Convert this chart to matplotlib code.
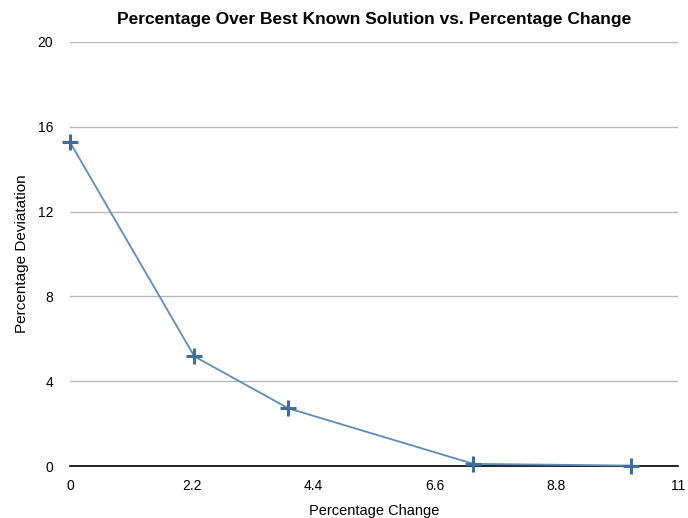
import matplotlib
matplotlib.use("Agg")
import matplotlib.pyplot as plt

plt.rcParams['font.family'] = ['Liberation Sans', 'DejaVu Sans']

# data
pct_change = [0, 2.25, 3.95, 7.3, 10.15]
pct_deviation = [15.27, 5.17, 2.72, 0.1, 0.02]
xticks = [0, 2.2, 4.4, 6.6, 8.8, 11]
xtick_labels = ["0", "2.2", "4.4", "6.6", "8.8", "11"]
yticks = [0, 4, 8, 12, 16, 20]

fig = plt.figure(figsize=(6.88, 5.18), dpi=100)
ax = fig.add_axes([70/688, 1 - 466/518, 608/688, 424/518])

ax.plot(pct_change, pct_deviation, color="#5f8abb", lw=1.3,
        marker="+", markersize=11, markeredgewidth=2.2,
        markeredgecolor="#3f6d9e", clip_on=False, zorder=3)

ax.set_xlim(0, 11)
ax.set_ylim(0, 20)
ax.set_xticks(xticks)
ax.set_xticklabels(xtick_labels)
ax.set_yticks(yticks)

ax.yaxis.grid(True, color="#b8b8b8", lw=1)
ax.set_axisbelow(True)
for s in ["top", "right", "left"]:
    ax.spines[s].set_visible(False)
ax.spines["bottom"].set_color("black")
ax.spines["bottom"].set_linewidth(1.2)
ax.tick_params(axis="both", length=0, labelsize=10)
ax.tick_params(axis="y", pad=12)
ax.tick_params(axis="x", pad=9)

ax.set_title("Percentage Over Best Known Solution vs. Percentage Change",
             fontsize=12.5, fontweight="bold", pad=13)
ax.set_xlabel("Percentage Change", fontsize=10.5, labelpad=8)
ax.set_ylabel("Percentage Deviatation", fontsize=11)
ax.yaxis.set_label_coords(-0.068, 0.5)

fig.savefig("out.png", dpi=100)
